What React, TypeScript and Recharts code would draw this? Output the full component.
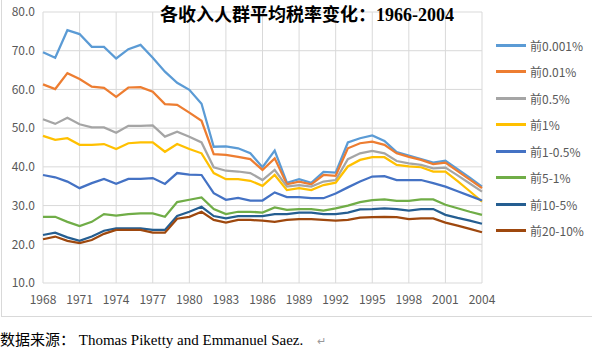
import { LineChart, Line, XAxis, YAxis, CartesianGrid } from 'recharts'

const years = [
  1968, 1969, 1970, 1971, 1972, 1973, 1974, 1975, 1976, 1977,
  1978, 1979, 1980, 1981, 1982, 1983, 1984, 1985, 1986, 1987,
  1988, 1989, 1990, 1991, 1992, 1993, 1994, 1995, 1996, 1997,
  1998, 1999, 2000, 2001, 2002, 2003, 2004,
]

const top0001 = [
  69.6, 68.2, 75.3, 74.3, 71.0, 71.0, 68.0, 70.4, 71.5, 68.2,
  64.6, 61.7, 59.9, 56.3, 45.2, 45.3, 44.8, 43.5, 39.9, 44.2,
  35.9, 36.8, 35.9, 38.7, 38.5, 46.3, 47.4, 48.1, 46.7, 43.8,
  42.9, 42.0, 41.1, 41.6, 39.4, 37.2, 34.9,
]
const top001 = [
  61.3, 60.1, 64.2, 62.7, 60.7, 60.4, 58.1, 60.5, 60.6, 59.4,
  56.2, 56.0, 54.0, 51.9, 43.3, 43.1, 42.6, 42.0, 39.2, 42.2,
  35.5, 36.2, 35.5, 37.9, 37.7, 44.8, 46.1, 46.5, 45.7, 43.5,
  42.6, 41.8, 40.7, 41.1, 38.9, 36.7, 34.5,
]
const top05 = [
  52.3, 51.1, 52.7, 51.0, 50.2, 50.2, 48.8, 50.6, 50.6, 50.7,
  47.8, 49.1, 47.8, 46.3, 39.9, 39.0, 38.8, 38.4, 36.6, 39.2,
  34.9, 35.3, 34.9, 36.2, 36.6, 42.0, 43.5, 44.1, 43.5, 41.5,
  40.9, 40.5, 39.6, 39.8, 37.8, 35.7, 33.6,
]
const top1 = [
  48.0, 47.0, 47.4, 45.7, 45.7, 45.9, 44.6, 46.1, 46.3, 46.3,
  43.9, 45.9, 44.6, 43.5, 38.4, 36.8, 36.8, 36.4, 35.1, 37.9,
  34.0, 34.5, 34.0, 35.3, 35.9, 40.1, 41.8, 42.5, 42.5, 40.5,
  40.1, 39.9, 38.8, 38.8, 36.3, 33.7, 31.0,
]
const top1to05 = [
  37.9, 37.3, 36.2, 34.5, 35.8, 36.9, 35.6, 36.9, 36.9, 37.1,
  35.6, 38.4, 38.0, 37.9, 33.2, 31.5, 32.0, 31.3, 31.3, 33.4,
  32.2, 32.2, 31.9, 31.9, 33.1, 34.7, 36.2, 37.5, 37.6, 36.6,
  36.6, 36.6, 35.8, 34.9, 33.7, 32.5, 31.3,
]
const top5to1 = [
  27.1, 27.1, 25.8, 24.7, 25.8, 27.8, 27.4, 27.8, 28.0, 28.0,
  27.1, 30.9, 31.5, 32.1, 29.1, 27.8, 28.4, 28.4, 28.2, 29.5,
  28.9, 29.1, 29.1, 28.7, 29.3, 30.0, 30.9, 31.4, 31.6, 31.2,
  31.2, 31.6, 31.6, 30.2, 29.3, 28.4, 27.6,
]
const top10to5 = [
  22.4, 23.0, 21.8, 20.9, 22.0, 23.5, 24.1, 24.1, 24.1, 23.7,
  23.7, 27.3, 28.4, 29.7, 27.3, 26.7, 27.3, 27.3, 27.3, 27.8,
  27.8, 28.2, 28.2, 27.8, 27.8, 28.2, 29.0, 29.1, 29.3, 29.1,
  28.7, 29.1, 29.1, 27.6, 26.8, 26.1, 25.3,
]
const top20to10 = [
  21.3, 22.0, 20.9, 20.3, 21.1, 22.7, 23.7, 23.7, 23.7, 23.0,
  23.0, 26.6, 27.1, 28.4, 26.3, 25.6, 26.3, 26.3, 26.1, 25.8,
  26.3, 26.5, 26.5, 26.3, 26.1, 26.3, 26.9, 27.0, 27.1, 27.0,
  26.5, 26.7, 26.7, 25.6, 24.8, 24.0, 23.1,
]

const yearTicks = [1968, 1971, 1974, 1977, 1980, 1983, 1986, 1989, 1992, 1995, 1998, 2001, 2004]
const rateTicks = [10, 20, 30, 40, 50, 60, 70, 80]

const series = [
  { key: 's1', name: '前0.001%', values: top0001, color: '#5B9BD5' },
  { key: 's2', name: '前0.01%', values: top001, color: '#ED7D31' },
  { key: 's3', name: '前0.5%', values: top05, color: '#A5A5A5' },
  { key: 's4', name: '前1%', values: top1, color: '#FFC000' },
  { key: 's5', name: '前1-0.5%', values: top1to05, color: '#4472C4' },
  { key: 's6', name: '前5-1%', values: top5to1, color: '#70AD47' },
  { key: 's7', name: '前10-5%', values: top10to5, color: '#255E91' },
  { key: 's8', name: '前20-10%', values: top20to10, color: '#9E480E' },
]

const data = years.map((year, i) => {
  const row: Record<string, number> = { year }
  series.forEach(s => { row[s.key] = s.values[i] })
  return row
})

const axisFont = '"Noto Sans CJK SC", "Noto Sans", sans-serif'
const tick = { fontSize: 12, fill: '#595959', fontFamily: axisFont }

function SideLegend() {
  return (
    <div style={{ position: 'absolute', left: 496, top: 32, fontFamily: axisFont, fontSize: 12, color: '#595959' }}>
      {series.map(s => (
        <div key={s.key} style={{ height: 26.5, display: 'flex', alignItems: 'center' }}>
          <span style={{ width: 30, height: 3, background: s.color, marginRight: 4, display: 'inline-block' }} />
          <span>{s.name}</span>
        </div>
      ))}
    </div>
  )
}

export default function App() {
  return (
    <div style={{ position: 'absolute', left: 0, top: 0, width: 592, height: 348, background: '#fff', overflow: 'hidden' }}>
      <div style={{ position: 'absolute', left: 1, top: -2, width: 620, height: 318, borderLeft: '1px solid #d9d9d9', borderBottom: '1px solid #d9d9d9' }} />
      <div style={{ position: 'absolute', left: 0, top: 0 }}>
        <LineChart width={592} height={318} data={data} margin={{ top: 12, right: 110, left: 0, bottom: 10 }}>
          <CartesianGrid stroke="#d9d9d9" strokeWidth={1} />
          <XAxis
            dataKey="year"
            ticks={yearTicks}
            interval={0}
            axisLine={false}
            tickLine={false}
            tick={tick}
            tickMargin={6}
            height={25}
          />
          <YAxis
            domain={[10, 80]}
            ticks={rateTicks}
            axisLine={false}
            tickLine={false}
            tick={tick}
            tickFormatter={(v: number) => v.toFixed(1)}
            width={43}
          />
          {series.map(s => (
            <Line
              key={s.key}
              type="linear"
              dataKey={s.key}
              name={s.name}
              stroke={s.color}
              strokeWidth={2.25}
              dot={false}
              isAnimationActive={false}
            />
          ))}
        </LineChart>
      </div>
      <SideLegend />
      <div
        style={{
          position: 'absolute', left: 160, top: 4, fontSize: 18, lineHeight: '22px', fontWeight: 'bold', whiteSpace: 'nowrap',
          fontFamily: '"Liberation Serif", "Noto Sans CJK SC", serif', color: '#000',
        }}
      >
        各收入人群平均税率变化：1966-2004
      </div>
      <div
        style={{
          position: 'absolute', left: 0, top: 332, fontSize: 15, lineHeight: '16px', whiteSpace: 'nowrap', color: '#000',
          fontFamily: '"Liberation Serif", "Noto Sans CJK SC", serif',
        }}
      >
        数据来源： Thomas Piketty and Emmanuel Saez. <span style={{ color: '#999', fontSize: 11, marginLeft: 10 }}>↵</span>
      </div>
    </div>
  )
}
